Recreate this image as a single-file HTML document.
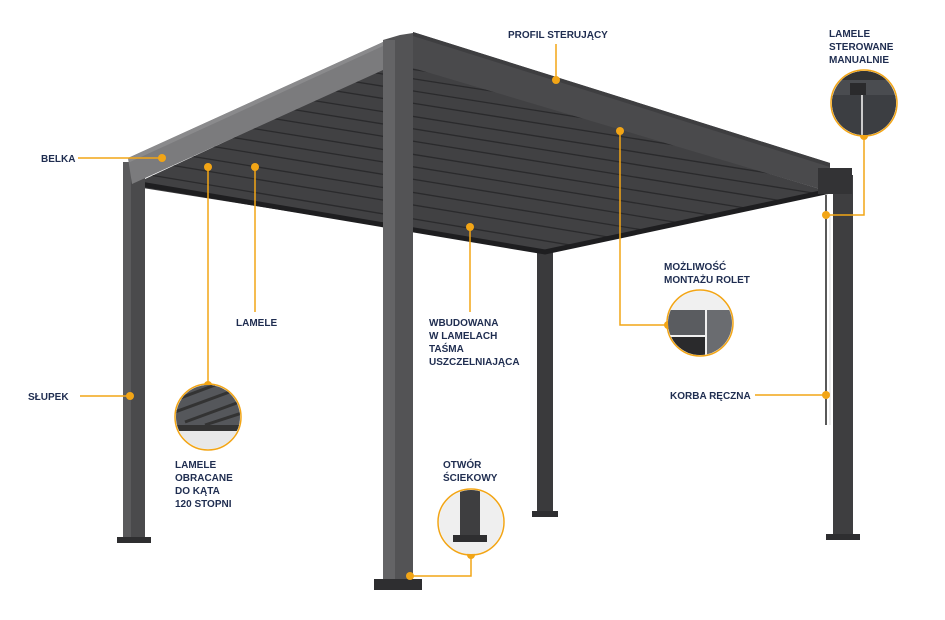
<!DOCTYPE html>
<html><head><meta charset="utf-8"><style>
html,body{margin:0;padding:0;background:#fff;}
svg{display:block;}
text{font-family:"Liberation Sans","DejaVu Sans",sans-serif;font-weight:bold;font-size:10px;fill:#1f2d50;}
</style></head><body>
<svg width="945" height="620" viewBox="0 0 945 620" xmlns="http://www.w3.org/2000/svg">
<defs>
<clipPath id="under"><polygon points="130,186 383,68 413,66 830,192 545,252"/></clipPath>
<clipPath id="c1"><circle cx="864" cy="103" r="32"/></clipPath>
<clipPath id="c2"><circle cx="208" cy="417" r="32"/></clipPath>
<clipPath id="c3"><circle cx="700" cy="323" r="32"/></clipPath>
<clipPath id="c4"><circle cx="471" cy="522" r="32"/></clipPath>
</defs>
<!-- back middle post -->
<rect x="537" y="240" width="16" height="272" fill="#3a3a3c"/>
<rect x="532" y="511" width="26" height="6" fill="#2e2e30"/>
<!-- underside -->
<polygon points="130,186 383,68 413,66 830,192 545,252" fill="#414143"/>
<g clip-path="url(#under)" stroke="#2a2a2c" stroke-width="1.3">
<line x1="150" y1="175" x2="900" y2="300"/><line x1="170" y1="165" x2="900" y2="285"/>
<line x1="190" y1="156" x2="900" y2="272"/><line x1="210" y1="146" x2="900" y2="259"/>
<line x1="230" y1="137" x2="900" y2="246"/><line x1="250" y1="128" x2="900" y2="233"/>
<line x1="270" y1="118" x2="900" y2="220"/><line x1="290" y1="109" x2="900" y2="207"/>
<line x1="310" y1="100" x2="900" y2="194"/><line x1="330" y1="90" x2="900" y2="181"/>
<line x1="350" y1="81" x2="900" y2="168"/><line x1="370" y1="72" x2="900" y2="155"/>
<line x1="390" y1="66" x2="900" y2="142"/>
</g>
<polyline points="140,184 545,252 830,191" fill="none" stroke="#1e1e20" stroke-width="5"/>
<!-- left post -->
<rect x="123" y="162" width="22" height="378" fill="#4a4a4c"/>
<rect x="123" y="162" width="8" height="378" fill="#5a5a5c"/>
<rect x="117" y="537" width="34" height="6" fill="#2e2e30"/>
<!-- left beam -->
<polygon points="128,158 383,42 383,70 132,184" fill="#7b7b7d"/>
<polygon points="128,158 383,42 383,46 130,162" fill="#8a8a8c"/>
<!-- right beam -->
<polygon points="413,32 830,163 830,192 413,68" fill="#4a4a4c"/>
<polygon points="413,32 830,163 830,167 413,36" fill="#3e3e40"/>
<!-- right post -->
<rect x="833" y="175" width="20" height="361" fill="#3e3e40"/>
<rect x="826" y="534" width="34" height="6" fill="#2e2e30"/>
<rect x="818" y="168" width="34" height="26" fill="#333335"/>
<line x1="826" y1="195" x2="826" y2="425" stroke="#222" stroke-width="1.5"/>
<line x1="830" y1="215" x2="830" y2="425" stroke="#ddd" stroke-width="1"/>
<!-- front post -->
<polygon points="383,40 400,35 413,33 413,580 383,580" fill="#535355"/>
<rect x="383" y="40" width="12" height="540" fill="#646466"/>
<rect x="374" y="579" width="48" height="11" fill="#2e2e30"/>
<!-- leaders -->
<g stroke="#f2a516" stroke-width="1.5" fill="none">
<line x1="556" y1="80" x2="556" y2="44"/>
<polyline points="864,135 864,215 826,215"/>
<line x1="78" y1="158" x2="162" y2="158"/>
<line x1="208" y1="167" x2="208" y2="385"/>
<line x1="255" y1="167" x2="255" y2="312"/>
<line x1="80" y1="396" x2="130" y2="396"/>
<line x1="470" y1="227" x2="470" y2="312"/>
<polyline points="620,131 620,325 668,325"/>
<line x1="755" y1="395" x2="826" y2="395"/>
<polyline points="471,555 471,576 410,576"/>
</g>
<g fill="#f2a516">
<circle cx="556" cy="80" r="4"/><circle cx="864" cy="136" r="4"/><circle cx="826" cy="215" r="4"/>
<circle cx="162" cy="158" r="4"/><circle cx="208" cy="167" r="4"/><circle cx="255" cy="167" r="4"/>
<circle cx="208" cy="385" r="4"/><circle cx="130" cy="396" r="4"/><circle cx="470" cy="227" r="4"/>
<circle cx="620" cy="131" r="4"/><circle cx="668" cy="325" r="4"/><circle cx="826" cy="395" r="4"/>
<circle cx="471" cy="555" r="4"/><circle cx="410" cy="576" r="4"/>
</g>
<!-- circles -->
<g clip-path="url(#c1)"><rect x="830" y="70" width="70" height="70" fill="#4a4c50"/><rect x="830" y="70" width="70" height="10" fill="#333"/><rect x="850" y="83" width="16" height="12" fill="#2a2a2c"/><rect x="830" y="95" width="70" height="45" fill="#3c3e42"/><line x1="862" y1="95" x2="862" y2="140" stroke="#ccc" stroke-width="2"/></g>
<circle cx="864" cy="103" r="33" fill="none" stroke="#f2a516" stroke-width="1.5"/>
<g clip-path="url(#c2)"><rect x="170" y="380" width="80" height="80" fill="#e8e8e8"/><polygon points="170,380 250,380 250,430 170,425" fill="#55575b"/><g stroke="#333" stroke-width="3"><line x1="175" y1="400" x2="215" y2="385"/><line x1="175" y1="412" x2="235" y2="390"/><line x1="185" y1="422" x2="245" y2="400"/><line x1="205" y1="425" x2="245" y2="412"/></g><rect x="170" y="425" width="80" height="6" fill="#333"/></g>
<circle cx="208" cy="417" r="33" fill="none" stroke="#f2a516" stroke-width="1.5"/>
<g clip-path="url(#c3)"><rect x="665" y="290" width="70" height="70" fill="#f0f0f0"/><rect x="665" y="310" width="40" height="25" fill="#5a5c60"/><rect x="665" y="337" width="40" height="25" fill="#2a2a2c"/><rect x="707" y="310" width="30" height="50" fill="#6a6c70"/></g>
<circle cx="700" cy="323" r="33" fill="none" stroke="#f2a516" stroke-width="1.5"/>
<g clip-path="url(#c4)"><rect x="436" y="488" width="70" height="70" fill="#efefef"/><rect x="460" y="488" width="20" height="50" fill="#3e3e40"/><rect x="453" y="535" width="34" height="7" fill="#2e2e30"/></g>
<circle cx="471" cy="522" r="33" fill="none" stroke="#f2a516" stroke-width="1.5"/>
<!-- text -->
<text x="508" y="38">PROFIL STERUJĄCY</text>
<text x="829" y="37">LAMELE</text><text x="829" y="50">STEROWANE</text><text x="829" y="63">MANUALNIE</text>
<text x="41" y="162">BELKA</text>
<text x="236" y="326">LAMELE</text>
<text x="28" y="400">SŁUPEK</text>
<text x="175" y="468">LAMELE</text><text x="175" y="481">OBRACANE</text><text x="175" y="494">DO KĄTA</text><text x="175" y="507">120 STOPNI</text>
<text x="429" y="326">WBUDOWANA</text><text x="429" y="339">W LAMELACH</text><text x="429" y="352">TAŚMA</text><text x="429" y="365">USZCZELNIAJĄCA</text>
<text x="664" y="270">MOŻLIWOŚĆ</text><text x="664" y="283">MONTAŻU ROLET</text>
<text x="670" y="399">KORBA RĘCZNA</text>
<text x="443" y="468">OTWÓR</text><text x="443" y="481">ŚCIEKOWY</text>
</svg>
</body></html>
